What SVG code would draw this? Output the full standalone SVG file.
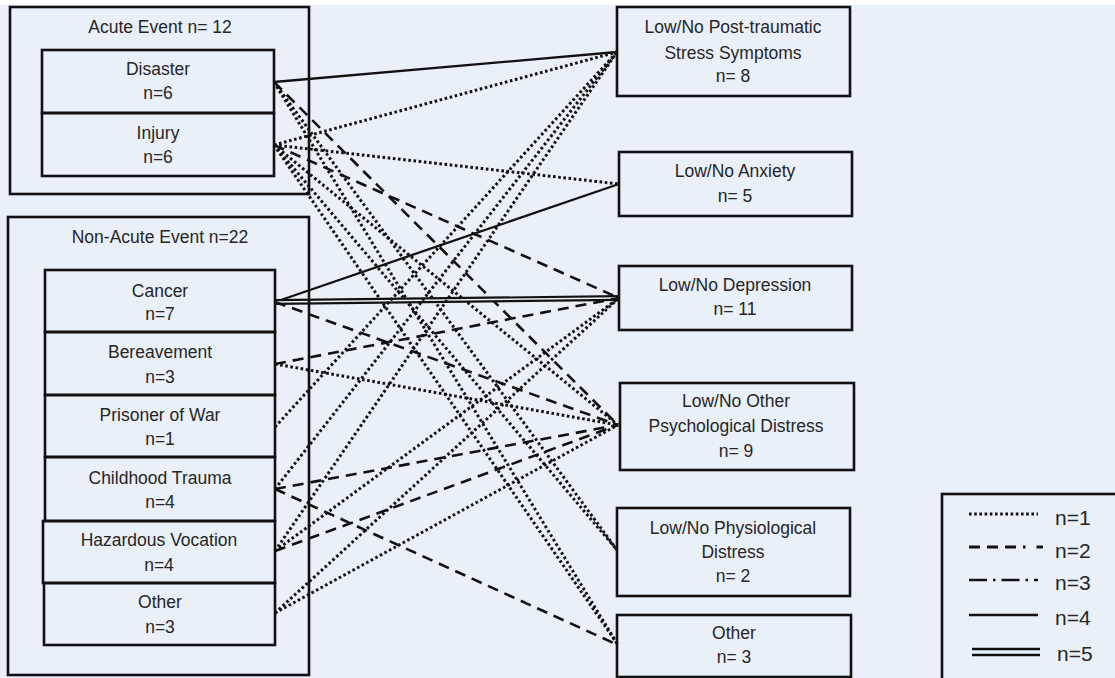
<svg xmlns="http://www.w3.org/2000/svg" width="1115" height="678" viewBox="0 0 1115 678">
<style>
.box{fill:none;stroke:#111;stroke-width:2.6}
.t{font-family:"Liberation Sans",Arial,sans-serif;font-size:17.5px;fill:#262626;text-anchor:middle}
.lg{font-family:"Liberation Sans",Arial,sans-serif;font-size:21px;fill:#262626}
.c{fill:none;stroke:#111}
.dot{stroke-width:3;stroke-dasharray:2.6 2.6}
.dash{stroke-width:2.6;stroke-dasharray:11 7}
.solid{stroke-width:2.3}
.dd{stroke-width:2.6;stroke-dasharray:18 6 2.5 6}
.dbl{stroke-width:5.8}
.dblin{stroke:#eaf0f8;stroke-width:1.4}
</style>
<rect x="0" y="0" width="1115" height="678" fill="#eaf0f8"/>
<rect x="0" y="0" width="1115" height="5" fill="#ffffff"/>
<g id="connectors">
<line class="c solid" x1="274" y1="82" x2="617" y2="52"/>
<line class="c dash" x1="274" y1="82" x2="618" y2="425"/>
<line class="c dot" x1="274" y1="82" x2="617" y2="550"/>
<line class="c dot" x1="274" y1="82" x2="618" y2="645"/>
<line class="c dot" x1="274" y1="145" x2="617" y2="52"/>
<line class="c dot" x1="274" y1="145" x2="619" y2="184"/>
<line class="c dash" x1="274" y1="145" x2="619" y2="298"/>
<line class="c dot" x1="274" y1="145" x2="618" y2="425"/>
<line class="c dot" x1="274" y1="145" x2="617" y2="550"/>
<line class="c dot" x1="274" y1="145" x2="618" y2="645"/>
<line class="c solid" x1="275" y1="302" x2="619" y2="184"/>
<line class="c dbl" x1="275" y1="302" x2="619" y2="298"/>
<line class="c dblin" x1="275" y1="302" x2="619" y2="298"/>
<line class="c dash" x1="275" y1="302" x2="618" y2="425"/>
<line class="c dash" x1="275" y1="364" x2="619" y2="298"/>
<line class="c dot" x1="275" y1="364" x2="618" y2="425"/>
<line class="c dot" x1="275" y1="427" x2="617" y2="52"/>
<line class="c dot" x1="275" y1="489" x2="617" y2="52"/>
<line class="c dash" x1="275" y1="489" x2="618" y2="425"/>
<line class="c dash" x1="275" y1="489" x2="618" y2="645"/>
<line class="c dot" x1="275" y1="551" x2="617" y2="52"/>
<line class="c dot" x1="275" y1="551" x2="619" y2="298"/>
<line class="c dash" x1="275" y1="551" x2="618" y2="425"/>
<line class="c dot" x1="275" y1="613" x2="619" y2="298"/>
<line class="c dot" x1="275" y1="613" x2="618" y2="425"/>
</g>
<g id="acute">
<rect class="box" x="10" y="7" width="299" height="187"/>
<text class="t" x="160" y="33">Acute Event n= 12</text>
</g>
<g id="disaster">
<rect class="box" x="42" y="50" width="232" height="63"/>
<text class="t" x="158" y="75">Disaster</text>
<text class="t" x="158" y="99">n=6</text>
</g>
<g id="injury">
<rect class="box" x="42" y="113" width="232" height="63"/>
<text class="t" x="158" y="139">Injury</text>
<text class="t" x="158" y="163">n=6</text>
</g>
<g id="nonacute">
<rect class="box" x="8" y="217" width="301" height="458"/>
<text class="t" x="160" y="243">Non-Acute Event n=22</text>
</g>
<g id="cancer">
<rect class="box" x="45" y="270" width="230" height="62"/>
<text class="t" x="160" y="297">Cancer</text>
<text class="t" x="160" y="320">n=7</text>
</g>
<g id="bereavement">
<rect class="box" x="45" y="332" width="230" height="63"/>
<text class="t" x="160" y="358">Bereavement</text>
<text class="t" x="160" y="383">n=3</text>
</g>
<g id="pow">
<rect class="box" x="45" y="395" width="230" height="62"/>
<text class="t" x="160" y="421">Prisoner of War</text>
<text class="t" x="160" y="445">n=1</text>
</g>
<g id="childhood">
<rect class="box" x="45" y="457" width="230" height="64"/>
<text class="t" x="160" y="484">Childhood Trauma</text>
<text class="t" x="160" y="508">n=4</text>
</g>
<g id="hazardous">
<rect class="box" x="43" y="521" width="232" height="62"/>
<text class="t" x="159" y="546">Hazardous Vocation</text>
<text class="t" x="159" y="571">n=4</text>
</g>
<g id="other-left">
<rect class="box" x="44" y="583" width="231" height="62"/>
<text class="t" x="160" y="608">Other</text>
<text class="t" x="160" y="633">n=3</text>
</g>
<g id="ptss">
<rect class="box" x="617" y="7" width="233" height="89"/>
<text class="t" x="733" y="33">Low/No Post-traumatic</text>
<text class="t" x="733" y="59">Stress Symptoms</text>
<text class="t" x="733" y="82">n= 8</text>
</g>
<g id="anxiety">
<rect class="box" x="619" y="152" width="233" height="64"/>
<text class="t" x="735" y="177">Low/No Anxiety</text>
<text class="t" x="735" y="202">n= 5</text>
</g>
<g id="depression">
<rect class="box" x="619" y="266" width="233" height="64"/>
<text class="t" x="735" y="291">Low/No Depression</text>
<text class="t" x="735" y="315">n= 11</text>
</g>
<g id="otherpsych">
<rect class="box" x="620" y="383" width="234" height="87"/>
<text class="t" x="736" y="407">Low/No Other</text>
<text class="t" x="736" y="432">Psychological Distress</text>
<text class="t" x="736" y="457">n= 9</text>
</g>
<g id="physio">
<rect class="box" x="617" y="508" width="233" height="88"/>
<text class="t" x="733" y="534">Low/No Physiological</text>
<text class="t" x="733" y="558">Distress</text>
<text class="t" x="733" y="582">n= 2</text>
</g>
<g id="other-right">
<rect class="box" x="617" y="615" width="234" height="62"/>
<text class="t" x="734" y="639">Other</text>
<text class="t" x="734" y="663">n= 3</text>
</g>
<g id="legend">
<rect class="box" x="942" y="494" width="200" height="200"/>
<line class="c dot" x1="969" y1="514" x2="1038" y2="514"/>
<text class="lg" x="1055" y="525">n=1</text>
<line class="c" stroke-width="2.8" stroke-dasharray="11 7 11 7 11 7 2.5" x1="969" y1="547" x2="1043" y2="547"/>
<text class="lg" x="1055" y="558">n=2</text>
<line class="c dd" x1="969" y1="580" x2="1038" y2="580"/>
<text class="lg" x="1055" y="590">n=3</text>
<line class="c solid" stroke-width="2.8" x1="969" y1="615" x2="1038" y2="615"/>
<text class="lg" x="1055" y="625">n=4</text>
<line class="c" stroke-width="2.4" x1="972" y1="649" x2="1040" y2="649"/>
<line class="c" stroke-width="2.4" x1="972" y1="655" x2="1040" y2="655"/>
<text class="lg" x="1057" y="661">n=5</text>
</g>
</svg>
